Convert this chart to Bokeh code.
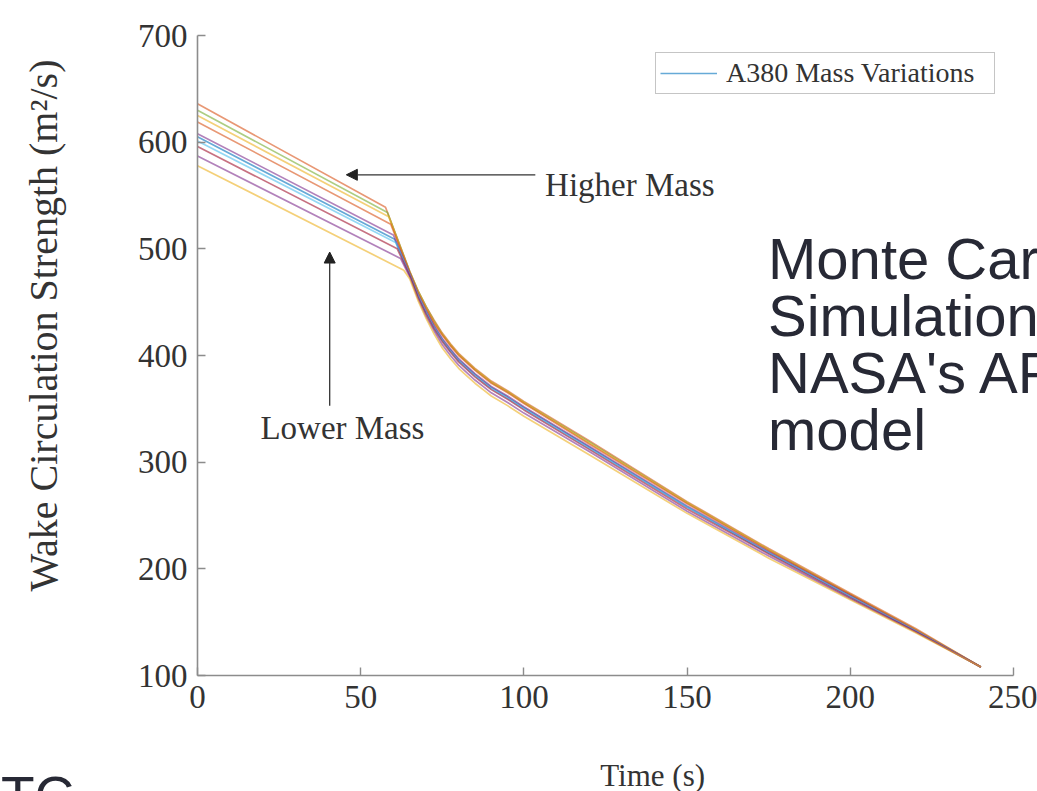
import math
from bokeh.plotting import figure
from bokeh.models import Range1d, FixedTicker, Label, Arrow, NormalHead, Legend, LegendItem
from bokeh.embed import file_html
from bokeh.resources import INLINE

# ---- data ----
START_V = [636, 630, 625, 619, 608, 605, 601, 596, 587, 578]
KINK_T = [57.6, 58.2, 58.6, 59.2, 60.0, 60.4, 60.7, 61.2, 62.2, 63.2]
KINK_V = [539, 534, 530, 523, 513, 509, 506, 500, 491, 480]
T_TAIL = [65, 67.5, 70, 72.5, 75, 77.5, 80, 82.5, 85, 87.5, 90, 95, 100, 120, 150, 175, 200, 220, 240]
V01 = [479, 461, 446, 433, 421, 411, 402, 395, 388, 382, 376, 367, 357, 320, 263, 219, 177, 144, 108]
V02 = [479, 461, 446, 432, 420, 410, 401, 394, 387, 381, 375, 366, 356, 319, 262, 218, 176, 143, 108]
V03 = [478, 460, 445, 431, 420, 410, 401, 394, 387, 381, 375, 366, 356, 318, 262, 218, 176, 143, 108]
V04 = [478, 459, 444, 430, 419, 409, 400, 393, 386, 380, 374, 365, 355, 317, 261, 217, 176, 143, 108]
V05 = [477, 458, 442, 428, 416, 406, 397, 390, 383, 377, 371, 362, 352, 315, 259, 216, 175, 142, 108]
V06 = [476, 457, 441, 427, 415, 405, 396, 389, 382, 376, 370, 361, 351, 314, 258, 215, 174, 142, 108]
V07 = [476, 457, 441, 426, 414, 404, 395, 388, 381, 375, 369, 360, 350, 313, 258, 215, 174, 142, 108]
V08 = [475, 455, 439, 425, 413, 403, 394, 387, 380, 374, 368, 359, 349, 312, 256, 214, 173, 141, 108]
V09 = [474, 454, 437, 423, 410, 400, 391, 384, 377, 371, 365, 356, 346, 310, 254, 212, 172, 141, 108]
V10 = [472, 452, 435, 420, 407, 397, 388, 381, 374, 368, 362, 353, 343, 307, 252, 210, 171, 140, 108]
TAILS = [V01, V02, V03, V04, V05, V06, V07, V08, V09, V10]
COLORS = ["#D95319", "#77AC30", "#EDB120", "#D95319", "#7E2F8E",
          "#0072BD", "#4DBEEE", "#A2142F", "#7E2F8E", "#EDB120"]
X_TICKS = [0, 50, 100, 150, 200, 250]
Y_TICKS = [100, 200, 300, 400, 500, 600, 700]

SERIF = "Liberation Serif"
SANS = "Liberation Sans"

# The frame covers the whole canvas; the axes are pinned at t=0 and v=100.
PX_X = 816 / 250.0     # pixels per second
PX_Y = 640 / 600.0     # pixels per m^2/s
X0_PX, Y100_PX = 197, 675
W, H = 1037, 791
x_lo = -X0_PX / PX_X
x_hi = (W - X0_PX) / PX_X
y_lo = 100 - (H - Y100_PX) / PX_Y
y_hi = 100 + Y100_PX / PX_Y

p = figure(width=W, height=H, output_backend="svg", toolbar_location=None,
           x_range=Range1d(x_lo, x_hi), y_range=Range1d(y_lo, y_hi),
           min_border=0)
p.outline_line_color = None
p.grid.visible = False
p.background_fill_color = "white"
p.border_fill_color = "white"

p.xaxis.fixed_location = 100
p.yaxis.fixed_location = 0
p.xaxis.bounds = (0, 250)
p.yaxis.bounds = (100, 700)
for ax, ticks in ((p.xaxis, X_TICKS), (p.yaxis, Y_TICKS)):
    ax.ticker = FixedTicker(ticks=ticks)
    ax.minor_tick_line_color = None
    ax.major_tick_in = 8
    ax.major_tick_out = 0
    ax.axis_line_color = "#8c8c8c"
    ax.axis_line_width = 1.6
    ax.major_tick_line_color = "#8c8c8c"
    ax.major_tick_line_width = 1.4
    ax.major_label_text_font = SERIF
    ax.major_label_text_font_size = "33px"
    ax.major_label_text_color = "#333333"
p.xaxis.major_label_standoff = 10
p.yaxis.major_label_standoff = 10

rmap = {}
for i in [5, 0, 1, 2, 3, 4, 6, 7, 8, 9]:
    xs = [0, KINK_T[i]] + T_TAIL
    ys = [START_V[i], KINK_V[i]] + TAILS[i]
    rmap[i] = p.line(xs, ys, line_color=COLORS[i], line_width=1.7, line_alpha=0.6)

legend = Legend(items=[LegendItem(label="A380 Mass Variations", renderers=[rmap[5]])],
                location=(655, H - 94))
legend.margin = 0
legend.padding = 4
legend.spacing = 0
legend.glyph_width = 57
legend.glyph_height = 20
legend.label_height = 20
legend.label_width = 264
legend.label_standoff = 9
legend.label_text_font = SERIF
legend.label_text_font_size = "28px"
legend.label_text_color = "#333333"
legend.border_line_color = "#8c8c8c"
legend.border_line_width = 1.4
legend.background_fill_alpha = 1.0
p.add_layout(legend)

head_kw = dict(size=11, fill_color="#222222", line_color="#222222")
p.add_layout(Arrow(end=NormalHead(**head_kw), x_start=103.5, y_start=569.4, x_end=45.6, y_end=569.4,
                   line_color="#333333", line_width=1.3))
p.add_layout(Arrow(end=NormalHead(**head_kw), x_start=40.5, y_start=353, x_end=40.5, y_end=497,
                   line_color="#333333", line_width=1.3))

p.add_layout(Label(x=106.5, y=559.4, text="Higher Mass", text_font=SERIF, text_font_size="33px",
                   text_color="#333333", text_baseline="alphabetic", text_align="left"))
p.add_layout(Label(x=44.4, y=331.6, text="Lower Mass", text_font=SERIF, text_font_size="33px",
                   text_color="#333333", text_baseline="alphabetic", text_align="center"))

# axis titles
p.add_layout(Label(x=-47.2, y=428.1, text="Wake Circulation Strength (m²/s)", angle=math.pi / 2,
                   text_font=SERIF, text_font_size="40px", text_color="#333333",
                   text_baseline="middle", text_align="center"))
p.add_layout(Label(x=123.4, y=6.0, text="Time (s)", text_font=SERIF, text_font_size="31px",
                   text_color="#333333", text_baseline="alphabetic", text_align="left"))

# slide texts
for txt, yv in (("Monte Carlo", 490.9), ("Simulation of", 437.5), ("NASA's APA", 384.1), ("model", 330.6)):
    p.add_layout(Label(x=174.8, y=yv, text=txt, text_font=SANS, text_font_size="58px",
                       text_color="#272935", text_baseline="alphabetic", text_align="left"))
p.add_layout(Label(x=-60.2, y=16.0, text="TC", text_font=SANS, text_font_size="55px",
                   text_color="#272935", text_baseline="top", text_align="left"))

open("out.html", "w").write(file_html(p, INLINE))
